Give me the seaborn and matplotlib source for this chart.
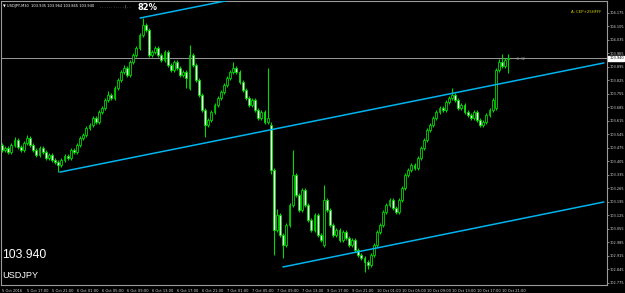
import matplotlib
matplotlib.use("Agg")
import matplotlib.pyplot as plt
import numpy as np
import pandas as pd
import seaborn as sns

# ---------------- data (USDJPY, M30) ----------------
opens = [103.491,103.465,103.475,103.454,103.491,103.516,103.480,103.465,103.501,103.527,
         103.491,103.465,103.439,103.475,103.454,103.423,103.439,103.413,103.402,103.387,
         103.413,103.434,103.423,103.465,103.454,103.491,103.527,103.542,103.579,103.594,
         103.631,103.610,103.662,103.682,103.724,103.750,103.734,103.786,103.828,103.869,
         103.890,103.853,103.921,103.957,103.994,104.061,104.113,104.087,103.957,103.973,
         103.994,103.957,103.931,103.973,103.905,103.879,103.921,103.890,103.853,103.869,
         103.786,103.957,103.905,103.828,103.750,103.672,103.594,103.620,103.662,103.698,
         103.734,103.765,103.802,103.838,103.869,103.890,103.869,103.817,103.776,103.734,
         103.698,103.724,103.672,103.631,103.662,103.610,103.594,103.361,103.050,103.128,
         103.024,102.972,103.076,103.179,103.335,103.231,103.154,103.257,103.179,103.102,
         103.050,103.128,103.024,102.972,103.205,103.154,103.076,103.024,103.050,102.998,
         103.040,103.008,102.972,102.998,102.946,102.920,102.905,102.884,102.868,102.920,
         102.972,103.040,103.076,103.143,103.179,103.205,103.164,103.143,103.205,103.268,
         103.335,103.361,103.387,103.371,103.423,103.475,103.516,103.568,103.594,103.631,
         103.662,103.682,103.672,103.714,103.734,103.750,103.724,103.682,103.698,103.662,
         103.646,103.631,103.662,103.620,103.594,103.610,103.646,103.672,103.682,103.879,
         103.921,103.900,103.935]
highs = [103.501,103.486,103.485,103.501,103.530,103.526,103.490,103.511,103.540,103.537,
         103.501,103.475,103.485,103.485,103.464,103.449,103.449,103.423,103.412,103.423,
         103.444,103.444,103.475,103.475,103.501,103.537,103.552,103.589,103.604,103.641,
         103.641,103.672,103.692,103.734,103.770,103.760,103.796,103.838,103.879,103.905,
         103.900,103.931,103.967,104.004,104.071,104.149,104.123,104.097,103.983,104.004,
         104.004,103.967,103.983,103.983,103.915,103.931,103.931,103.900,103.879,103.879,
         104.009,103.967,103.915,103.838,103.760,103.682,103.630,103.672,103.708,103.744,
         103.775,103.812,103.848,103.879,103.921,103.900,103.879,103.827,103.786,103.744,
         103.734,103.734,103.682,103.672,103.672,103.890,103.610,103.371,103.160,103.138,
         103.034,103.086,103.189,103.465,103.345,103.241,103.267,103.267,103.189,103.112,
         103.138,103.138,103.034,103.283,103.215,103.164,103.086,103.060,103.060,103.050,
         103.050,103.018,103.008,103.008,102.956,102.930,102.915,102.894,102.930,102.982,
         103.050,103.086,103.153,103.189,103.215,103.215,103.174,103.215,103.278,103.345,
         103.371,103.397,103.397,103.433,103.485,103.526,103.578,103.604,103.641,103.672,
         103.692,103.692,103.724,103.744,103.786,103.760,103.734,103.708,103.708,103.672,
         103.656,103.672,103.672,103.630,103.620,103.656,103.682,103.734,103.889,103.935,
         103.964,103.941,103.964]
lows = [103.455,103.455,103.444,103.444,103.481,103.470,103.452,103.455,103.491,103.481,
        103.455,103.429,103.429,103.444,103.413,103.413,103.403,103.390,103.351,103.377,
        103.403,103.413,103.413,103.444,103.444,103.481,103.517,103.532,103.569,103.584,
        103.600,103.600,103.652,103.672,103.714,103.724,103.724,103.776,103.818,103.859,
        103.843,103.843,103.911,103.947,103.984,104.051,104.077,103.947,103.947,103.963,
        103.947,103.921,103.921,103.895,103.869,103.869,103.880,103.843,103.843,103.786,
        103.776,103.895,103.818,103.740,103.662,103.532,103.584,103.610,103.652,103.688,
        103.724,103.755,103.792,103.828,103.859,103.859,103.807,103.766,103.724,103.688,
        103.688,103.662,103.621,103.621,103.600,103.600,103.340,102.920,103.040,103.014,
        102.905,102.962,103.066,103.169,103.221,103.144,103.144,103.169,103.092,103.040,
        103.040,103.014,102.988,102.962,103.144,103.066,103.014,103.014,102.988,102.988,
        102.998,102.962,102.962,102.936,102.910,102.895,102.832,102.850,102.858,102.910,
        102.962,103.030,103.066,103.133,103.169,103.154,103.133,103.133,103.195,103.258,
        103.325,103.351,103.361,103.361,103.413,103.465,103.506,103.558,103.584,103.621,
        103.652,103.662,103.662,103.704,103.724,103.714,103.672,103.672,103.652,103.636,
        103.621,103.621,103.610,103.584,103.584,103.600,103.636,103.662,103.672,103.869,
        103.890,103.890,103.865]
closes = [103.465,103.475,103.454,103.491,103.516,103.480,103.465,103.501,103.527,103.491,
          103.465,103.439,103.475,103.454,103.423,103.439,103.413,103.402,103.387,103.413,
          103.434,103.423,103.465,103.454,103.491,103.527,103.542,103.579,103.594,103.631,
          103.610,103.662,103.682,103.724,103.750,103.734,103.786,103.828,103.869,103.890,
          103.853,103.921,103.957,103.994,104.061,104.113,104.087,103.957,103.973,103.994,
          103.957,103.931,103.973,103.905,103.879,103.921,103.890,103.853,103.869,103.838,
          103.957,103.905,103.828,103.750,103.672,103.594,103.620,103.662,103.698,103.734,
          103.765,103.802,103.838,103.869,103.890,103.869,103.817,103.776,103.734,103.698,
          103.724,103.672,103.631,103.662,103.610,103.631,103.361,103.050,103.128,103.024,
          102.972,103.076,103.179,103.335,103.231,103.154,103.257,103.179,103.102,103.050,
          103.128,103.024,102.998,103.205,103.154,103.076,103.024,103.050,102.998,103.040,
          103.008,102.972,102.998,102.946,102.920,102.905,102.884,102.868,102.920,102.972,
          103.040,103.076,103.143,103.179,103.205,103.164,103.143,103.205,103.268,103.335,
          103.361,103.387,103.371,103.423,103.475,103.516,103.568,103.594,103.631,103.662,
          103.682,103.672,103.714,103.734,103.750,103.724,103.682,103.698,103.662,103.646,
          103.631,103.662,103.620,103.594,103.610,103.646,103.672,103.724,103.879,103.921,
          103.900,103.931,103.940]

price_ticks = [104.175,104.105,104.035,103.965,103.895,103.825,103.755,103.685,103.615,
               103.545,103.475,103.405,103.335,103.265,103.195,103.125,103.055,102.985,
               102.915,102.845,102.775]
time_tick_bars = [0,8,16,24,32,40,48,56,64,72,80,88,96,104,112,120,128,136,144,152,160]
time_tick_labels = ["5 Oct 2016","5 Oct 17:00","5 Oct 21:00","6 Oct 01:00","6 Oct 05:00",
                    "6 Oct 09:00","6 Oct 13:00","6 Oct 17:00","6 Oct 21:00","7 Oct 01:00",
                    "7 Oct 05:00","7 Oct 09:00","7 Oct 13:00","9 Oct 17:00","9 Oct 21:00",
                    "10 Oct 01:00","10 Oct 05:00","10 Oct 09:00","10 Oct 13:00",
                    "10 Oct 17:00","10 Oct 21:00"]
last_price = 103.940

# trend lines (bar index, price)
line1_x = [18.5, 192.6]; line1_y = [103.350, 103.916]
line2_x = [44.2, 80.0];  line2_y = [104.149, 104.265]
line3_x = [89.9, 192.6]; line3_y = [102.858, 103.195]

# ---------------- drawing ----------------
sns.set_theme(style="dark", rc={"axes.facecolor": "black", "figure.facecolor": "black",
                                "axes.grid": False})
plt.rcParams["font.family"] = ["DejaVu Sans"]
small = ["DejaVu Sans"]

W, H = 625, 293
fig = plt.figure(figsize=(W / 100, H / 100), dpi=100, facecolor="black")
L, R, T, B = 1, 607, 1, 285
ax = fig.add_axes([L / W, (H - B) / H, (R - L) / W, (B - T) / H])
ax.set_facecolor("black")

df = pd.DataFrame({"o": opens, "h": highs, "l": lows, "c": closes})
df["i"] = np.arange(len(df))
green = "#00d800"
ax.vlines(df["i"], df["l"], df["h"], color=green, lw=0.8, zorder=2)
bull = df[df["c"] >= df["o"]]
bear = df[df["c"] < df["o"]]
ax.bar(bull["i"], np.maximum(bull["c"] - bull["o"], 0.002), bottom=bull["o"], width=0.62,
       color="black", edgecolor=green, linewidth=0.6, zorder=3)
ax.bar(bear["i"], np.maximum(bear["o"] - bear["c"], 0.002), bottom=bear["c"], width=0.62,
       color="white", edgecolor=green, linewidth=0.6, zorder=3)

cyan = "#00b4f0"
for lx, ly in [(line1_x, line1_y), (line2_x, line2_y), (line3_x, line3_y)]:
    sns.lineplot(x=lx, y=ly, ax=ax, color=cyan, lw=1.1, zorder=4)

ax.axhline(last_price, color="#9a9a9a", lw=0.7, zorder=1)

pxv = 0.07 / 13.5
ax.set_xlim((L - 2) / 3.125, (R - 2) / 3.125)
ax.set_ylim(104.2424 - pxv * B, 104.2424 - pxv * T)

for s in ax.spines.values():
    s.set_color("#9a9a9a")
    s.set_linewidth(0.8)

ax.yaxis.tick_right()
ax.set_yticks(price_ticks)
ax.set_yticklabels([f"{v:.3f}" for v in price_ticks])
ax.tick_params(axis="y", colors="#9a9a9a", labelcolor="#d8d8d8", labelsize=2.5,
               length=1.5, width=0.6, pad=0.6, direction="out")
ax.set_xticks(time_tick_bars)
ax.set_xticklabels(time_tick_labels)
for lab in ax.get_xticklabels():
    lab.set_ha("left")
ax.tick_params(axis="x", colors="#9a9a9a", labelcolor="#d8d8d8", labelsize=2.6,
               length=2.0, width=0.6, pad=0.8, direction="out")
ax.set_xlabel(""); ax.set_ylabel("")

# current price box
ax.text(1.0035, last_price, f"{last_price:.3f}", transform=ax.get_yaxis_transform(),
        fontsize=2.5, color="black", va="center", ha="left", family=small,
        bbox=dict(boxstyle="square,pad=0.2", fc="white", ec="white"))

# header texts
fig.text(3 / W, 1 - 6 / H, "\u25BC USDJPY,M30  103.935 103.964 103.865 103.940",
         fontsize=2.6, color="white", va="center", ha="left", family=small)
fig.text(100 / W, 1 - 7 / H, ". . . . . . : . . . . | . .", fontsize=2.6, color="#cfe8ff",
         va="center", ha="left", family=small)
fig.text(137 / W, 1 - 7 / H, "82%", fontsize=6.0, color="white", va="center", ha="left",
         fontweight="bold", family=["DejaVu Sans"])
fig.text(601 / W, 1 - 12 / H, "A: CEP+25HFFF", fontsize=2.8, color="#d8d800",
         va="center", ha="right", family=small)
fig.text(515 / W, 1 - 59 / H, "+0.32", fontsize=2.6, color="#9a9a9a", va="center",
         ha="left", family=small)

fig.text(2 / W, 1 - 255 / H, "103.940", fontsize=8.8, color="white", va="center",
         ha="left", family=["Liberation Sans", "DejaVu Sans"])
fig.text(2 / W, 1 - 275 / H, "USDJPY", fontsize=6.6, color="white", va="center",
         ha="left", family=["Liberation Sans", "DejaVu Sans"])

fig.savefig("out.png", dpi=100, facecolor="black")
